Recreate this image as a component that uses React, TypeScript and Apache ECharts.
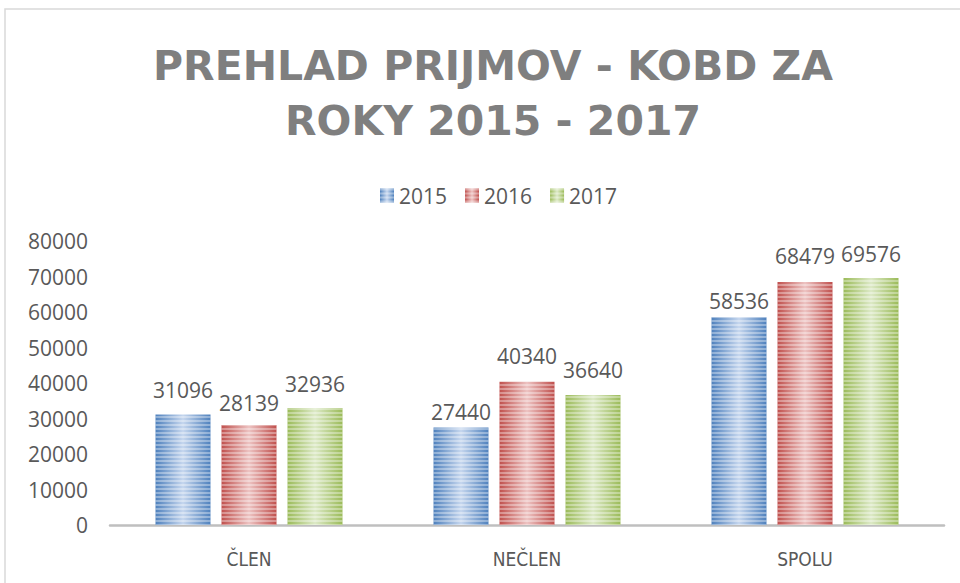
import React, { useEffect, useRef } from "react";
import * as echarts from "echarts";

const categories = ["ČLEN", "NEČLEN", "SPOLU"];
const seriesNames = ["2015", "2016", "2017"];
const values2015 = [31096, 27440, 58536];
const values2016 = [28139, 40340, 68479];
const values2017 = [32936, 36640, 69576];
const yTicks = { min: 0, max: 80000, interval: 10000 };

const baseColors = ["#4F81BD", "#C0504D", "#9BBB59"];
const lightColors = ["#C5D6EE", "#EDC3C2", "#DCE9C6"];
// label distance above bar per [series][category]
const labelGaps = [
  [14, 5, 6],
  [12, 15, 15],
  [14, 14, 14],
];

function fill(i: number) {
  return new echarts.graphic.LinearGradient(0, 0, 1, 0, [
    { offset: 0, color: baseColors[i] },
    { offset: 0.5, color: lightColors[i] },
    { offset: 1, color: baseColors[i] },
  ]);
}

export default function App() {
  const ref = useRef<HTMLDivElement>(null);
  useEffect(() => {
    document.body.style.margin = "0";
    const chart = echarts.init(ref.current!, undefined, { renderer: "svg" });
    const allValues = [values2015, values2016, values2017];
    const font = "'Open Sans', sans-serif";
    chart.setOption({
      animation: false,
      backgroundColor: "#ffffff",
      title: {
        text: "PREHLAD PRIJMOV - KOBD ZA\nROKY 2015 - 2017",
        left: 488,
        textAlign: "center",
        top: 33,
        textStyle: {
          fontFamily: "'DejaVu Sans', sans-serif",
          fontWeight: "bold",
          fontSize: 41,
          lineHeight: 55,
          color: "#7F7F7F",
        },
      },
      legend: {
        data: seriesNames,
        top: 180,
        left: 375,
        itemWidth: 14,
        itemHeight: 14,
        itemGap: 18,
        icon: "rect",
        textStyle: { fontFamily: font, fontSize: 21, color: "#595959" },
      },
      graphic: [
        {
          type: "rect",
          shape: { x: 5, y: 9, width: 1000, height: 1000 },
          style: { fill: "none", stroke: "#D9D9D9", lineWidth: 1.5 },
          silent: true,
        },
      ],
      grid: { left: 110, right: 16, top: 241, bottom: 58 },
      xAxis: {
        type: "category",
        data: categories,
        axisLine: { lineStyle: { color: "#BFBFBF", width: 2.5 } },
        axisTick: { show: false },
        axisLabel: {
          fontFamily: "'Liberation Sans Narrow', 'DejaVu Sans Condensed', sans-serif",
          fontSize: 19,
          color: "#595959",
          margin: 24,
        },
      },
      yAxis: {
        type: "value",
        min: yTicks.min,
        max: yTicks.max,
        interval: yTicks.interval,
        axisLine: { show: false },
        axisTick: { show: false },
        splitLine: { show: false },
        axisLabel: {
          fontFamily: font,
          fontSize: 21,
          color: "#595959",
          margin: 22,
          formatter: (v: number) => String(v),
        },
      },
      series: seriesNames.map((name, i) => ({
        name,
        type: "bar",
        data: allValues[i].map((v, j) => ({
          value: v,
          label: { distance: labelGaps[i][j] },
        })),
        barWidth: 55,
        barGap: "20%",
        itemStyle: {
          color: fill(i),
          decal: {
            symbol: "rect",
            symbolSize: 1,
            dashArrayX: [1, 0],
            dashArrayY: [1.5, 1.5],
            rotation: 0,
            color: "rgba(255,255,255,0.35)",
          },
        },
        label: {
          show: true,
          position: "top",
          fontFamily: font,
          fontSize: 21,
          color: "#595959",
        },
      })),
    });
    return () => chart.dispose();
  }, []);
  return <div ref={ref} style={{ width: 960, height: 583 }} />;
}
